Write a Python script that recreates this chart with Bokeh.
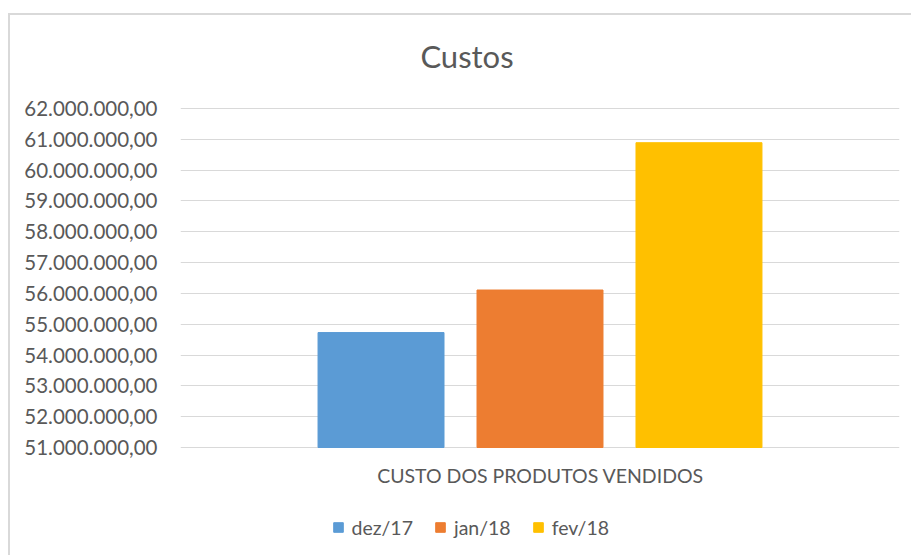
from bokeh.plotting import figure
from bokeh.models import FactorRange, Legend, LegendItem, FixedTicker, Label
from bokeh.transform import dodge
from bokeh.embed import file_html
from bokeh.resources import INLINE

# ---- data ----
category = ["CUSTO DOS PRODUTOS VENDIDOS"]
series_names = ["dez/17", "jan/18", "fev/18"]
series_values = [54_730_000, 56_110_000, 60_890_000]
series_colors = ["#5b9bd5", "#ed7d31", "#ffc000"]
y_ticks = [51e6, 52e6, 53e6, 54e6, 55e6, 56e6, 57e6, 58e6, 59e6, 60e6, 61e6, 62e6]
y_tick_labels = ["51.000.000,00", "52.000.000,00", "53.000.000,00", "54.000.000,00",
                 "55.000.000,00", "56.000.000,00", "57.000.000,00", "58.000.000,00",
                 "59.000.000,00", "60.000.000,00", "61.000.000,00", "62.000.000,00"]
title_text = "Custos"

FONT = "Lato"
TXT = "#595959"
GRID = "#d9d9d9"

# ---- layout (page pixels) ----
FIG_TOP = 15          # after 13px margin + 2px border
FIG_H = 542
FRAME_BOTTOM = FIG_TOP + FIG_H
PX_TOP_TICK = 108     # where the top tick sits
PX_BOT_TICK = 447     # where the bottom tick (axis) sits
ppu = (PX_BOT_TICK - PX_TOP_TICK) / (y_ticks[-1] - y_ticks[0])
y_lo = y_ticks[0] - (FRAME_BOTTOM - PX_BOT_TICK) / ppu
y_hi = y_ticks[-1] + (PX_TOP_TICK - FIG_TOP) / ppu

p = figure(
    x_range=FactorRange(factors=category, range_padding=0),
    y_range=(y_lo, y_hi),
    width=903, height=FIG_H,
    output_backend="svg", toolbar_location=None,
    min_border_left=170, min_border_right=14,
    min_border_top=0, min_border_bottom=0,
)
p.styles = {"border-top": "2px solid #d9d9d9", "border-left": "2px solid #d9d9d9",
            "margin-top": "13px", "margin-left": "8px"}

# title (frame-relative screen units, y from bottom)
p.add_layout(Label(x=286.5, y=FRAME_BOTTOM - 55, x_units="screen", y_units="screen",
                   text=title_text, text_align="center", text_baseline="alphabetic",
                   text_font=FONT, text_font_size="31px", text_color=TXT))

offsets = [-0.2211, 0.0, 0.2211]
items = []
for name, val, col, off in zip(series_names, series_values, series_colors, offsets):
    r = p.vbar(x=dodge("x", off, range=p.x_range), top="top", bottom=y_ticks[0],
               width=0.1752, fill_color=col, line_color=col,
               source=dict(x=category, top=[val]))
    items.append(LegendItem(label=name, renderers=[r]))

# category label under the axis
p.add_layout(Label(x=360, y=FRAME_BOTTOM - 474.5, x_units="screen", y_units="screen",
                   text=category[0], text_align="center", text_baseline="alphabetic",
                   text_font=FONT, text_font_size="19.5px", text_color=TXT))

legend = Legend(items=items, orientation="horizontal",
                location=(151.5, FRAME_BOTTOM - 538.5),
                margin=0, padding=0, spacing=21, label_standoff=8,
                glyph_width=12, glyph_height=12, label_height=20,
                label_text_font=FONT, label_text_font_size="19.5px",
                label_text_color=TXT, border_line_color=None,
                background_fill_alpha=0)
p.add_layout(legend, "center")

# y axis
p.yaxis.ticker = FixedTicker(ticks=y_ticks)
p.yaxis.major_label_overrides = {t: l for t, l in zip(y_ticks, y_tick_labels)}
p.yaxis.axis_line_color = None
p.yaxis.major_tick_line_color = None
p.yaxis.minor_tick_line_color = None
p.yaxis.major_label_standoff = 17
p.yaxis.major_label_text_font = FONT
p.yaxis.major_label_text_font_size = "20.5px"
p.yaxis.major_label_text_color = TXT

p.xaxis.visible = False
p.xgrid.grid_line_color = None
p.ygrid.grid_line_color = GRID
p.ygrid.grid_line_width = 1
p.outline_line_color = None
p.background_fill_color = "white"
p.border_fill_color = "white"

open("out.html", "w").write(file_html(p, INLINE))
